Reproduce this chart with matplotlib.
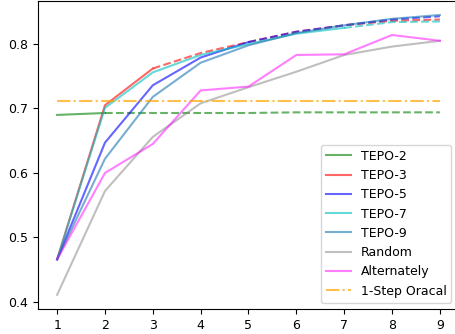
import matplotlib
matplotlib.use("Agg")
import matplotlib.pyplot as plt

steps = [1, 2, 3, 4, 5, 6, 7, 8, 9]
tepo2 = [0.690, 0.693, 0.693, 0.693, 0.693, 0.694, 0.694, 0.694, 0.694]
tepo3 = [0.466, 0.705, 0.762, 0.786, 0.803, 0.819, 0.829, 0.836, 0.838]
tepo5 = [0.466, 0.647, 0.736, 0.779, 0.803, 0.819, 0.829, 0.838, 0.843]
tepo7 = [0.466, 0.701, 0.756, 0.783, 0.800, 0.816, 0.825, 0.834, 0.835]
tepo9 = [0.466, 0.622, 0.718, 0.771, 0.798, 0.817, 0.829, 0.839, 0.845]
random_ = [0.411, 0.572, 0.656, 0.708, 0.733, 0.757, 0.783, 0.796, 0.805]
alternately = [0.466, 0.600, 0.645, 0.728, 0.734, 0.783, 0.784, 0.814, 0.805]
oracle = 0.711

W, H = 456, 334
fig = plt.figure(figsize=(W / 100, H / 100), dpi=100)
ax = fig.add_axes([38 / W, 1 - 309 / H, (459 - 38) / W, (309 - 1) / H])

tepo = [(2, tepo2, 'green', 'TEPO-2'),
        (3, tepo3, 'red', 'TEPO-3'),
        (5, tepo5, 'blue', 'TEPO-5'),
        (7, tepo7, 'c', 'TEPO-7'),
        (9, tepo9, '#1f77b4', 'TEPO-9')]
for k, vals, col, lab in tepo:
    ax.plot(steps[:k], vals[:k], color=col, alpha=0.6, lw=1.5, label=lab)
    if k < len(steps):
        ax.plot(steps[k - 1:], vals[k - 1:], color=col, alpha=0.6, lw=1.5, ls='--')

ax.plot(steps, random_, color='gray', alpha=0.5, lw=1.5, label='Random')
ax.plot(steps, alternately, color='magenta', alpha=0.5, lw=1.5, label='Alternately')
ax.plot(steps, [oracle] * len(steps), color='orange', alpha=0.7, lw=1.5, ls='-.', label='1-Step Oracal')

ax.set_xlim(0.6, 9.4)
ax.set_ylim(0.389, 0.8667)
ax.set_xticks(steps)
ax.set_yticks([0.4, 0.5, 0.6, 0.7, 0.8])
ax.tick_params(labelsize=9)
ax.legend(loc='lower right', fontsize=9, bbox_to_anchor=(453 / 459 * 0 + (451.5 - 38) / (459 - 38), 6.5 / 308), borderaxespad=0)

fig.savefig('out.png', dpi=100)
